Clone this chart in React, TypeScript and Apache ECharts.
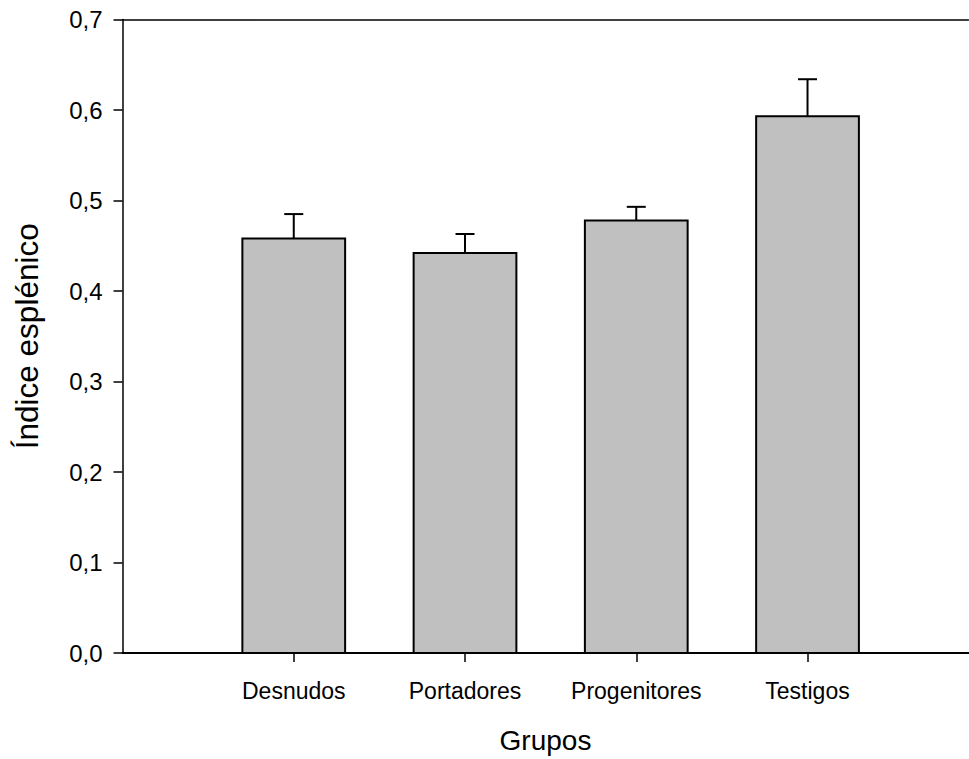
import React, { useEffect, useRef } from "react";
import * as echarts from "echarts";

const categories = ["Desnudos", "Portadores", "Progenitores", "Testigos"];
const means = [0.458, 0.442, 0.478, 0.593];
const errors = [0.027, 0.021, 0.015, 0.041];
const positions = [1, 2, 3, 4];

const FONT = "'Liberation Sans', Arial, Helvetica, sans-serif";

export default function App() {
  const ref = useRef<HTMLDivElement>(null);

  useEffect(() => {
    if (!ref.current) return;
    const chart = echarts.init(ref.current, null, { renderer: "svg" });
    const data = categories.map((c, i) => [positions[i], means[i], errors[i]]);
    const option: any = {
      animation: false,
      backgroundColor: "#fff",
      textStyle: { fontFamily: FONT },
      grid: { left: 122.5, right: 0.5, top: 19.5, bottom: 105.7 },
      xAxis: [
        {
          type: "value",
          min: 0,
          max: 4.94,
          interval: 1,
          axisLine: { show: true, onZero: false, lineStyle: { color: "#000", width: 2 } },
          axisTick: {
            show: true,
            customValues: positions,
            length: 9,
            lineStyle: { color: "#000", width: 1.5 },
          },
          axisLabel: {
            customValues: positions,
            formatter: (v: number) => categories[Math.round(v) - 1] ?? "",
            fontSize: 23,
            color: "#000",
            margin: 26,
            fontFamily: FONT,
          },
          splitLine: { show: false },
          name: "Grupos",
          nameLocation: "middle",
          nameGap: 73,
          nameTextStyle: { fontSize: 28, color: "#000", fontFamily: FONT },
        },
        {
          type: "value",
          position: "top",
          min: 0,
          max: 4.94,
          interval: 1,
          axisLine: { show: true, onZero: false, lineStyle: { color: "#000", width: 1.5 } },
          axisTick: { show: false },
          axisLabel: { show: false },
          splitLine: { show: false },
        },
      ],
      yAxis: {
        type: "value",
        min: 0,
        max: 0.7,
        interval: 0.1,
        axisLine: { show: true, onZero: false, lineStyle: { color: "#000", width: 1.5 } },
        axisTick: { show: true, length: 9, lineStyle: { color: "#000", width: 1.5 } },
        axisLabel: {
          formatter: (v: number) => v.toFixed(1).replace(".", ","),
          fontSize: 24,
          color: "#000",
          margin: 20,
          fontFamily: FONT,
        },
        splitLine: { show: false },
        name: "Índice esplénico",
        nameLocation: "middle",
        nameGap: 80,
        nameRotate: 90,
        nameTextStyle: { fontSize: 31.5, color: "#000", fontFamily: FONT },
      },
      series: [
        {
          type: "custom",
          xAxisIndex: 0,
          yAxisIndex: 0,
          data,
          renderItem: (params: any, api: any) => {
            const x = api.value(0);
            const y = api.value(1);
            const e = api.value(2);
            const base = api.coord([x, 0]);
            const top = api.coord([x, y]);
            const errTop = api.coord([x, y + e]);
            const w = api.size([0.6, 0])[0];
            return {
              type: "group",
              children: [
                {
                  type: "rect",
                  shape: { x: base[0] - w / 2, y: top[1], width: w, height: base[1] - top[1] },
                  style: { fill: "#C0C0C0", stroke: "#000", lineWidth: 2 },
                },
                {
                  type: "line",
                  shape: { x1: top[0], y1: top[1], x2: top[0], y2: errTop[1] },
                  style: { stroke: "#000", lineWidth: 2 },
                },
                {
                  type: "line",
                  shape: { x1: top[0] - 9.5, y1: errTop[1], x2: top[0] + 9.5, y2: errTop[1] },
                  style: { stroke: "#000", lineWidth: 2 },
                },
              ],
            };
          },
        },
      ],
    };
    chart.setOption(option);
    return () => chart.dispose();
  }, []);

  return (
    <div
      ref={ref}
      style={{ position: "absolute", left: 0, top: 0, width: 969, height: 759 }}
    />
  );
}
